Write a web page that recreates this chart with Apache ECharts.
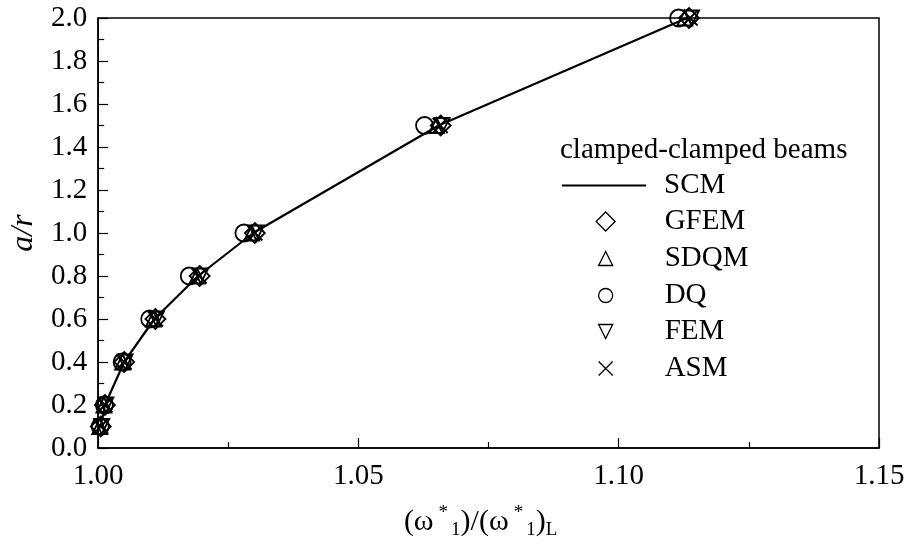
<!DOCTYPE html>
<html>
<head>
<meta charset="utf-8">
<script src="https://cdn.jsdelivr.net/npm/echarts@6/dist/echarts.min.js"></script>
<style>
  html, body { margin: 0; padding: 0; background: #fff; }
  #chart { width: 910px; height: 545px; }
</style>
</head>
<body>
<div id="chart"></div>
<script>
// Amplitude ratio a/r (vertical axis)
const amplitude = [0.1, 0.2, 0.4, 0.6, 0.8, 1.0, 1.5, 2.0];

// Nonlinear-to-linear fundamental frequency ratio for each method
const scm  = [1.0005, 1.0013, 1.0050, 1.0108, 1.0192, 1.0298, 1.0654, 1.1131];
const gfem = [1.0005, 1.0013, 1.0050, 1.0110, 1.0195, 1.0301, 1.0658, 1.1135];
const sdqm = [1.0003, 1.0011, 1.0047, 1.0106, 1.0190, 1.0295, 1.0650, 1.1127];
const dq   = [1.0004, 1.0012, 1.0046, 1.0099, 1.0175, 1.0280, 1.0627, 1.1115];
const fem  = [1.0007, 1.0015, 1.0052, 1.0112, 1.0197, 1.0304, 1.0661, 1.1140];
const asm  = [1.0005, 1.0013, 1.0050, 1.0110, 1.0194, 1.0301, 1.0657, 1.1137];

const seriesNames = ['SCM', 'GFEM', 'SDQM', 'DQ', 'FEM', 'ASM'];
const legendTitle = 'clamped-clamped beams';

const FONT = '"Liberation Serif", "Times New Roman", serif';
const INK = '#000';
const LABEL_SIZE = 29;

function pairs(xs) {
  return xs.map(function (x, i) { return [x, amplitude[i]]; });
}

function markerSeries(name, values, symbol, size) {
  return {
    name: name,
    type: 'scatter',
    data: pairs(values),
    symbol: symbol,
    symbolSize: size,
    clip: false,
    z: 3,
    itemStyle: { color: 'rgba(255,255,255,0)', borderColor: INK, borderWidth: 1.8, opacity: 1 },
    emphasis: { disabled: true }
  };
}

const crossPath = 'path://M0,0L10,10M0,10L10,0';
const downTrianglePath = 'path://M0,0L10,0L5,10Z';

// Legend: one block per entry so each key symbol keeps its own size
const legendRowY = [184, 220, 257, 294, 330, 367];
const legendIconSize = [0, 19, 14, 14, 14, 14];
const textStart = 659;
const iconCentre = 600;

const legends = seriesNames.map(function (name, i) {
  const common = {
    data: [name],
    orient: 'vertical',
    selectedMode: false,
    top: legendRowY[i] - LABEL_SIZE / 2 - 3.5
  };
  if (i === 0) {
    return Object.assign(common, {
      left: 557,
      icon: 'rect',
      itemWidth: 84,
      itemHeight: 2,
      itemStyle: { color: INK, borderWidth: 0 },
      textStyle: { fontFamily: FONT, fontSize: LABEL_SIZE, color: INK, padding: [0, 0, 0, textStart - (557 + 84 + 5)] }
    });
  }
  const s = legendIconSize[i];
  const left = iconCentre - s / 2;
  return Object.assign(common, {
    left: left,
    itemWidth: s,
    itemHeight: s,
    itemStyle: { borderWidth: 1.3 },
    textStyle: { fontFamily: FONT, fontSize: LABEL_SIZE, color: INK, padding: [0, 0, 0, textStart - (left + s + 5)] }
  });
});

const chart = echarts.init(document.getElementById('chart'), null, { renderer: 'canvas' });

chart.setOption({
  animation: false,
  backgroundColor: '#fff',
  title: {
    text: legendTitle,
    left: 555,
    top: 131,
    textStyle: { fontFamily: FONT, fontSize: LABEL_SIZE, fontWeight: 'normal', color: INK }
  },
  legend: legends,
  grid: {
    left: 94, right: 31, top: 18, bottom: 93,
    show: true,
    borderColor: INK,
    borderWidth: 1.5,
    backgroundColor: 'transparent'
  },
  xAxis: {
    type: 'value',
    min: 1.0,
    max: 1.15,
    interval: 0.05,
    name: '(ω{sup|*}{sub|1})/(ω{sup|*}{sub|1}){sub|L}',
    nameLocation: 'middle',
    nameGap: 56,
    nameTextStyle: {
      fontFamily: FONT, fontSize: 30, color: INK, lineHeight: 36,
      padding: [0, 16, 0, 0],
      rich: {
        sup: { fontFamily: FONT, fontSize: 19, color: INK, verticalAlign: 'top', lineHeight: 36, padding: [0, 3, 0, 5] },
        sub: { fontFamily: FONT, fontSize: 19, color: INK, verticalAlign: 'bottom', lineHeight: 36 }
      }
    },
    axisLine: { lineStyle: { color: INK, width: 1.5 } },
    axisTick: { inside: true, length: 10, lineStyle: { color: INK, width: 1.2 } },
    minorTick: { show: true, splitNumber: 2, length: 6, lineStyle: { color: INK, width: 1.2 } },
    splitLine: { show: false },
    axisLabel: {
      margin: 14,
      fontFamily: FONT, fontSize: LABEL_SIZE, color: INK,
      formatter: function (v) { return v.toFixed(2); }
    }
  },
  yAxis: {
    type: 'value',
    min: 0,
    max: 2.0,
    interval: 0.2,
    name: 'a/r',
    nameLocation: 'middle',
    nameGap: 52,
    nameRotate: 90,
    nameTextStyle: { fontFamily: FONT, fontSize: 32, fontStyle: 'italic', color: INK },
    axisLine: { lineStyle: { color: INK, width: 1.5 } },
    axisTick: { inside: true, length: 10, lineStyle: { color: INK, width: 1.2 } },
    minorTick: { show: true, splitNumber: 2, length: 6, lineStyle: { color: INK, width: 1.2 } },
    splitLine: { show: false },
    axisLabel: {
      margin: 11,
      fontFamily: FONT, fontSize: LABEL_SIZE, color: INK,
      formatter: function (v) { return v.toFixed(1); }
    }
  },
  series: [
    {
      name: 'SCM',
      type: 'line',
      data: pairs(scm),
      symbol: 'none',
      showSymbol: false,
      clip: false,
      z: 2,
      lineStyle: { color: INK, width: 2.2 },
      itemStyle: { color: INK },
      emphasis: { disabled: true }
    },
    markerSeries('GFEM', gfem, 'diamond', 20),
    markerSeries('SDQM', sdqm, 'triangle', 15),
    markerSeries('DQ', dq, 'circle', 17),
    markerSeries('FEM', fem, downTrianglePath, 15),
    markerSeries('ASM', asm, crossPath, 15)
  ]
});
</script>
</body>
</html>
